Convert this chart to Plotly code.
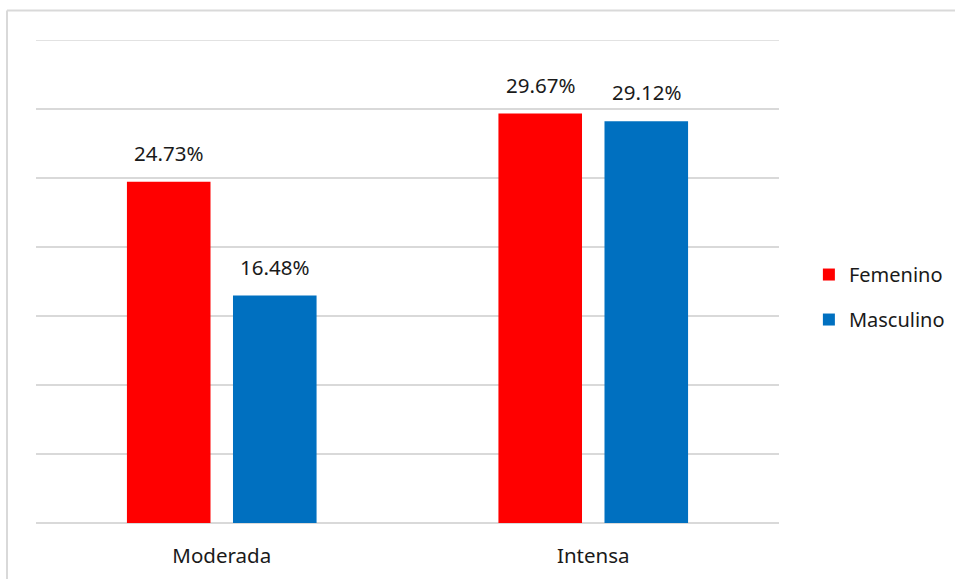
import plotly.graph_objects as go

categories = ["Moderada", "Intensa"]
femenino = [24.73, 29.67]
masculino = [16.48, 29.12]
series_names = ["Femenino", "Masculino"]
series_colors = ["#FF0000", "#0070C0"]

FONT = "Noto Sans"
TEXT_COLOR = "#1a1a1a"
GRID = "#d9d9d9"
Y_MAX = 35

fig = go.Figure()
for i, (name, vals, col) in enumerate(zip(series_names, [femenino, masculino], series_colors)):
    fig.add_trace(go.Bar(
        x=categories, y=vals, name=name, marker_color=col,
        marker_line_width=0, legendgroup=name,
    ))

# value labels above each bar
bar_offset = 53  # px from category centre to bar centre
for vals, shift in zip([femenino, masculino], [-bar_offset, bar_offset]):
    for c, v in zip(categories, vals):
        fig.add_annotation(
            x=c, y=v, text=f"{v:.2f}%", showarrow=False,
            xshift=shift, yshift=13, yanchor="bottom",
            font=dict(family=FONT, size=20.5, color=TEXT_COLOR),
        )

# top gridline at the edge of the value range
fig.add_shape(type="line", xref="paper", yref="y", x0=0, x1=1,
              y0=Y_MAX, y1=Y_MAX, line=dict(color=GRID, width=1.5), layer="below")

# light frame around the chart area
fig.add_shape(type="line", xref="paper", yref="paper", x0=-0.039, x1=1.5,
              y0=1.061, y1=1.061, line=dict(color=GRID, width=2))
fig.add_shape(type="line", xref="paper", yref="paper", x0=-0.039, x1=-0.039,
              y0=-0.3, y1=1.061, line=dict(color=GRID, width=2))

fig.update_layout(
    width=955, height=579,
    margin=dict(l=36, r=176, t=39.5, b=55.5, autoexpand=False),
    paper_bgcolor="white", plot_bgcolor="white",
    barmode="group", bargap=0.429, bargroupgap=0.212,
    font=dict(family=FONT, size=20, color=TEXT_COLOR),
    showlegend=True,
    legend=dict(xref="container", yref="container",
                x=0.847, y=0.487, xanchor="left", yanchor="middle",
                traceorder="grouped", tracegroupgap=16,
                font=dict(family=FONT, size=20, color=TEXT_COLOR),
                itemwidth=30),
)
fig.update_xaxes(showgrid=False, showline=False, ticks="",
                 ticklabelstandoff=18,
                 tickfont=dict(family=FONT, size=20.5, color=TEXT_COLOR))
fig.update_yaxes(range=[0, Y_MAX], dtick=5, showticklabels=False,
                 showgrid=True, gridcolor=GRID, gridwidth=1.5,
                 zeroline=True, zerolinecolor=GRID, zerolinewidth=1.5,
                 showline=False, ticks="")

fig.write_html("out.html")
